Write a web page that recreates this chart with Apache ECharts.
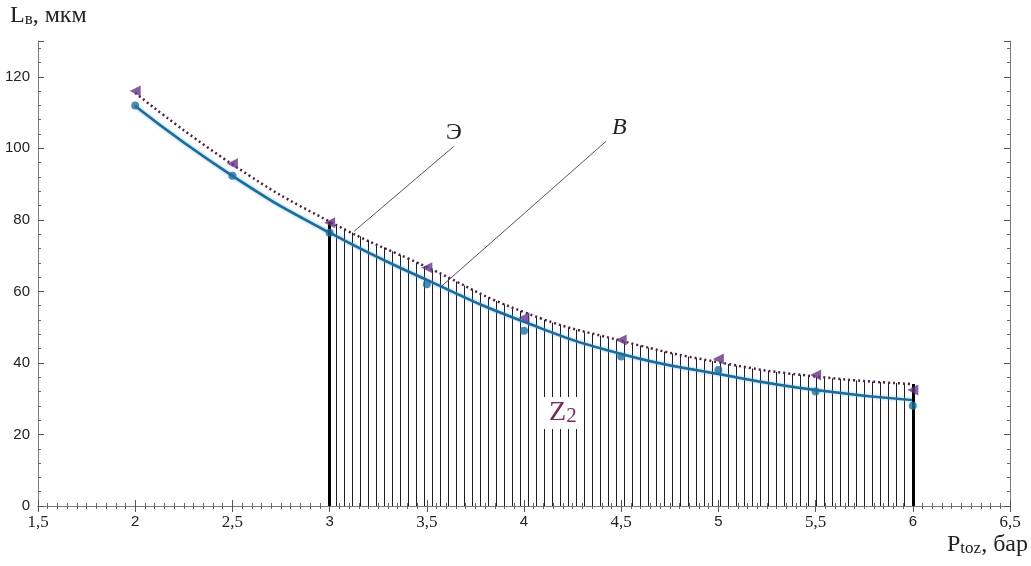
<!DOCTYPE html>
<html>
<head>
<meta charset="utf-8">
<script src="https://cdn.jsdelivr.net/npm/echarts@6/dist/echarts.min.js"></script>
<style>
  html, body { margin: 0; padding: 0; background: #fff; }
  #chart { width: 1031px; height: 566px; }
</style>
</head>
<body>
<div id="chart"></div>
<script>
// pressure, bar
const pressure = [2, 2.5, 3, 3.5, 4, 4.5, 5, 5.5, 6]
// points (circles and triangles)
const pointsB = [112, 92.3, 76.4, 62, 49, 41.8, 38, 32, 28]
const pointsE = [116, 95.7, 79.2, 66.6, 52.6, 46.4, 41.1, 36.6, 32.4]
// fitted curves read at the same pressures
const curveB = [111.8, 92.3, 76.4, 63.2, 51.5, 42.5, 36.9, 32.4, 29.6]
const curveE = [115.5, 95.5, 79.5, 66.8, 54.2, 46.2, 40.2, 36.2, 34.1]
// hatched zone Z2 between these pressures (indexes into pressure)
const zoneFrom = 2
const zoneTo = 8

const pairs = (xs, ys) => xs.map((x, i) => [x, ys[i]])

const serif = 'Liberation Serif'
const sans = 'Liberation Sans'

// vertical stripes for the Z2 area
const stripe = document.createElement('canvas')
stripe.width = 8
stripe.height = 8
const sctx = stripe.getContext('2d')
sctx.fillStyle = '#1e1e1e'
sctx.fillRect(0, 0, 1, 8)

const chart = echarts.init(document.getElementById('chart'))

const axisCommon = {
  axisLine: { show: true, lineStyle: { color: '#7a7a7a', width: 1 } },
  axisTick: { show: true, inside: true, length: 6, lineStyle: { color: '#555' } },
  splitLine: { show: false }
}

chart.setOption({
  animation: false,
  backgroundColor: '#fff',
  grid: { left: 38, right: 21, top: 41, bottom: 60 },
  xAxis: [{
    type: 'value',
    min: 1.5,
    max: 6.5,
    interval: 0.5,
    position: 'bottom',
    ...axisCommon,
    minorTick: { show: true, splitNumber: 10, length: 3, lineStyle: { color: '#666' } },
    axisLabel: {
      margin: 8,
      color: '#222',
      formatter: v => Number.isInteger(v) ? '{s|' + v + '}' : '{r|' + String(v).replace('.', ',') + '}',
      rich: {
        s: { fontFamily: sans, fontSize: 15, color: '#222' },
        r: { fontFamily: serif, fontSize: 17, color: '#222' }
      }
    }
  }, {
    type: 'value',
    min: 1.5,
    max: 6.5,
    interval: 0.5,
    position: 'top',
    ...axisCommon,
    minorTick: { show: true, splitNumber: 10, length: 3, lineStyle: { color: '#666' } },
    axisLabel: { show: false }
  }],
  yAxis: [{
    type: 'value',
    min: 0,
    max: 130,
    interval: 20,
    position: 'left',
    ...axisCommon,
    minorTick: { show: true, splitNumber: 5, length: 3, lineStyle: { color: '#666' } },
    axisLabel: { margin: 8, color: '#222', fontFamily: sans, fontSize: 15, showMaxLabel: false }
  }, {
    type: 'value',
    min: 0,
    max: 130,
    interval: 20,
    position: 'right',
    ...axisCommon,
    minorTick: { show: true, splitNumber: 5, length: 3, lineStyle: { color: '#666' } },
    axisLabel: { show: false }
  }],
  graphic: [{
    type: 'text',
    left: 10,
    top: 4,
    style: {
      text: '{b|L}{s|в}{b|, мкм}',
      rich: {
        b: { fontFamily: serif, fontSize: 24, fill: '#222', verticalAlign: 'bottom' },
        s: { fontFamily: serif, fontSize: 17, fill: '#222', verticalAlign: 'bottom' }
      }
    }
  }, {
    type: 'text',
    right: 3,
    top: 533,
    style: {
      text: '{b|P}{s|toz}{b|, бар}',
      rich: {
        b: { fontFamily: serif, fontSize: 24, fill: '#222', verticalAlign: 'bottom' },
        s: { fontFamily: serif, fontSize: 17, fill: '#222', verticalAlign: 'bottom' }
      }
    }
  }],
  series: [{
    name: 'Z2',
    type: 'line',
    smooth: true,
    symbol: 'none',
    z: 1,
    data: pairs(pressure.slice(zoneFrom, zoneTo + 1), curveE.slice(zoneFrom, zoneTo + 1)),
    lineStyle: { width: 0 },
    areaStyle: { color: { image: stripe, repeat: 'repeat' }, opacity: 1 },
    markLine: {
      silent: true,
      symbol: 'none',
      label: { show: false },
      lineStyle: { color: '#000', width: 3, type: 'solid' },
      data: [
        [{ coord: [pressure[zoneFrom], 0] }, { coord: [pressure[zoneFrom], curveE[zoneFrom]] }],
        [{ coord: [pressure[zoneTo], 0] }, { coord: [pressure[zoneTo], curveE[zoneTo]] }],
        [{ coord: [3.126, 76.8], lineStyle: { color: '#555', width: 1 } }, { coord: [3.638, 100.5] }],
        [{ coord: [3.577, 61.5], lineStyle: { color: '#555', width: 1 } }, { coord: [4.423, 102] }]
      ]
    },
    markPoint: {
      silent: true,
      symbol: 'circle',
      symbolSize: 1,
      itemStyle: { color: 'rgba(0,0,0,0)' },
      data: [{
        coord: [3.64, 104.5],
        label: { show: true, position: 'inside', formatter: 'Э', fontFamily: serif, fontSize: 24, color: '#222' }
      }, {
        coord: [4.49, 105.8],
        label: { show: true, position: 'inside', formatter: 'B', fontFamily: serif, fontStyle: 'italic', fontSize: 24, color: '#222' }
      }, {
        coord: [4.2, 26],
        label: {
          show: true,
          position: 'inside',
          formatter: '{z|Z}{n|2}',
          backgroundColor: '#fff',
          padding: [2, 6],
          rich: {
            z: { fontFamily: serif, fontSize: 28, color: '#7a2a5e', verticalAlign: 'bottom' },
            n: { fontFamily: serif, fontSize: 21, color: '#7a2a5e', verticalAlign: 'bottom', padding: [6, 0, 0, 0] }
          }
        }
      }]
    }
  }, {
    name: 'B',
    type: 'line',
    smooth: true,
    symbol: 'none',
    z: 3,
    data: pairs(pressure, curveB),
    lineStyle: { color: '#1d6b99', width: 2.5, shadowColor: 'rgba(90,170,225,0.8)', shadowBlur: 3 }
  }, {
    name: 'Э',
    type: 'line',
    smooth: true,
    symbol: 'none',
    z: 4,
    data: pairs(pressure, curveE),
    lineStyle: { color: '#4e1f40', width: 2.5, type: [2, 3] }
  }, {
    name: 'B points',
    type: 'scatter',
    z: 5,
    symbol: 'circle',
    symbolSize: 8,
    data: pairs(pressure, pointsB),
    itemStyle: { color: '#1f6e9e' }
  }, {
    name: 'Э points',
    type: 'scatter',
    z: 5,
    symbol: 'triangle',
    symbolSize: 11,
    symbolRotate: 90,
    data: pairs(pressure, pointsE),
    itemStyle: { color: '#663388' }
  }]
})
</script>
</body>
</html>
